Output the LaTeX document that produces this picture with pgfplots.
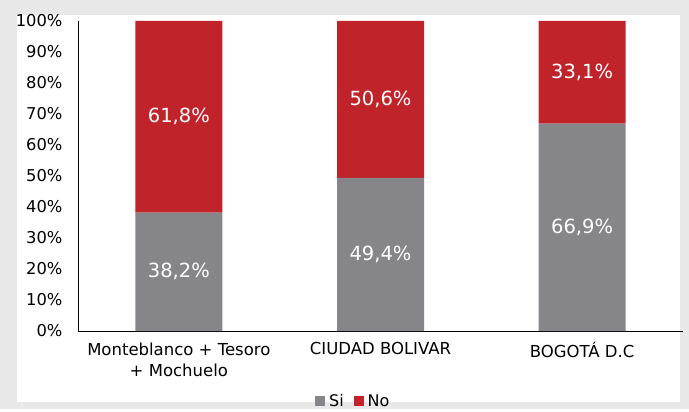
\documentclass[border=0pt]{standalone}
\usepackage{pgfplots}
\pgfplotsset{compat=1.18}
\usepackage{fontspec}
\setmainfont{DejaVu Sans}
\definecolor{sigray}{HTML}{86868A}
\definecolor{nored}{HTML}{C0232A}
\definecolor{bggray}{HTML}{E8E8E8}
\begin{document}
\begin{tikzpicture}[x=1pt,y=1pt]
\fill[bggray] (-78,-78) rectangle (611,331);
\fill[white] (-61,-71) rectangle (602,316);
\begin{axis}[
  at={(0,0)}, anchor=south west,
  scale only axis, width=605pt, height=310pt,
  ybar stacked, bar width=87pt,
  xmin=-0.5, xmax=2.5, ymin=0, ymax=100,
  xtick={0,1,2},
  xticklabels={{Monteblanco + Tesoro\\+ Mochuelo},{CIUDAD BOLIVAR},{BOGOTÁ D.C}},
  xticklabel style={align=center, font=\fontsize{16.5}{21}\selectfont, yshift=-8pt},
  ytick={0,10,...,100},
  yticklabel={\pgfmathprintnumber{\tick}\%},
  yticklabel style={font=\fontsize{16.3}{18}\selectfont, xshift=-12pt},
  /pgf/number format/assume math mode=true,
  major tick length=0pt,
  axis x line*=bottom, axis y line*=left,
  axis line style={black, line width=0.8pt},
  legend style={at={(0.455,-0.226)}, anchor=center, draw=none, fill=none,
    legend columns=2, font=\fontsize{16}{18}\selectfont,
    /tikz/every odd column/.append style={column sep=2pt},
    /tikz/every even column/.append style={column sep=8pt}},
  legend image code/.code={\fill[#1] (0pt,-5pt) rectangle (10pt,5pt);},
]
\addplot[fill=sigray, draw=none] coordinates {(0,38.2) (1,49.4) (2,66.9)};
\addplot[fill=nored, draw=none] coordinates {(0,61.8) (1,50.6) (2,33.1)};
\legend{Si,No}
\end{axis}
\begin{axis}[
  at={(0,0)}, anchor=south west,
  scale only axis, width=605pt, height=310pt,
  xmin=-0.5, xmax=2.5, ymin=0, ymax=100,
  axis lines=none,
]
\addplot[only marks, mark=none, nodes near coords, point meta=explicit symbolic,
  every node near coord/.append style={anchor=center, text=white, font=\fontsize{19.5}{22}\selectfont}]
  coordinates {(0,19.1)[38,2\%] (1,24.7)[49,4\%] (2,33.45)[66,9\%]
               (0,69.1)[61,8\%] (1,74.7)[50,6\%] (2,83.45)[33,1\%]};
\end{axis}
\end{tikzpicture}
\end{document}
